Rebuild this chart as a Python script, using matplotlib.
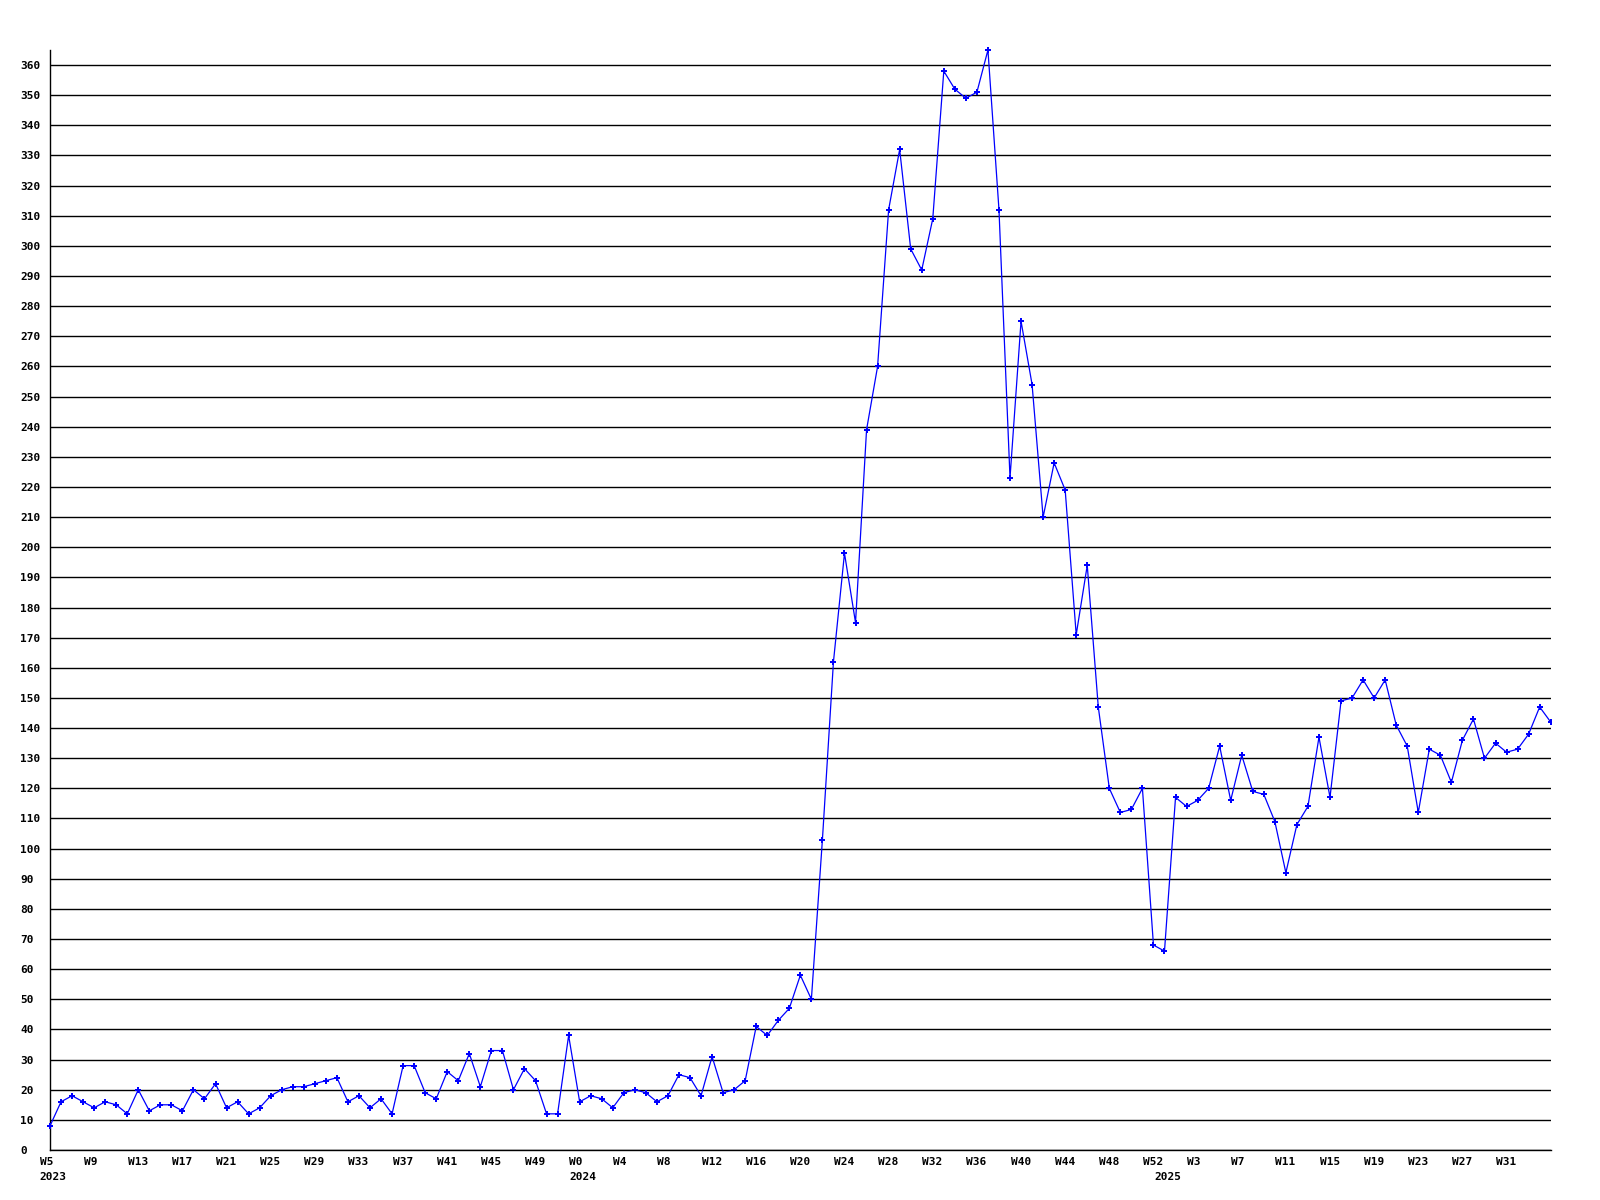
import matplotlib
matplotlib.use("Agg")
import matplotlib.pyplot as plt
import matplotlib.transforms as mtransforms

# weekly counts, 2023 W5 .. 2025 W35
values = [
    8, 16, 18, 16, 14, 16, 15, 12, 20, 13, 15, 15, 13, 20, 17, 22, 14, 16, 12, 14,
    18, 20, 21, 21, 22, 23, 24, 16, 18, 14, 17, 12, 28, 28, 19, 17, 26, 23, 32, 21,
    33, 33, 20, 27, 23, 12, 12, 38,
    16, 18, 17, 14, 19, 20, 19, 16, 18, 25, 24, 18, 31, 19, 20, 23, 41, 38, 43, 47,
    58, 50, 103, 162, 198, 175,
    239, 260, 312, 332, 299, 292, 309, 358, 352, 349, 351, 365, 312, 223, 275, 254,
    210, 228, 219, 171, 194, 147, 120, 112, 113, 120,
    68, 66, 117, 114, 116, 120, 134, 116, 131, 119, 118, 109, 92, 108, 114, 137, 117, 149, 150,
    156, 150, 156, 141, 134, 112, 133, 131, 122, 136, 143, 130, 135, 132, 133, 138, 147, 142,
]

week_labels = [
    "W5", "W9", "W13", "W17", "W21", "W25", "W29", "W33", "W37", "W41", "W45", "W49",
    "W0", "W4", "W8", "W12", "W16", "W20", "W24", "W28", "W32", "W36", "W40", "W44", "W48", "W52",
    "W3", "W7", "W11", "W15", "W19", "W23", "W27", "W31",
]
week_ticks = list(range(0, 4 * len(week_labels), 4))

year_labels = ["2023", "2024", "2025"]
year_pos = [0, 48, 101]

font = {"family": "DejaVu Sans Mono", "weight": "bold", "size": 8}

fig = plt.figure(figsize=(16, 12), dpi=100)
ax = fig.add_axes([50 / 1600, 50 / 1200, 1500.7 / 1600, 1100 / 1200])

x = list(range(len(values)))
line, = ax.plot(x, values, color="#0000ff", lw=0.9, marker="P", ms=4, mew=0, zorder=3)
# clip only at the right edge, markers may stick out at top/left
clip = mtransforms.TransformedBbox(mtransforms.Bbox([[-0.01, -0.05], [1.0, 1.05]]), ax.transAxes)
line.set_clip_box(clip)

ax.set_xlim(0, len(values) - 1)
ax.set_ylim(0, 365)
ax.set_yticks(range(0, 361, 10))
ax.yaxis.grid(True, color="black", lw=1.0)
ax.set_axisbelow(True)

for s in ["top", "right"]:
    ax.spines[s].set_visible(False)
ax.spines["left"].set_color("black")
ax.spines["bottom"].set_color("black")
ax.spines["left"].set_linewidth(1.0)
ax.spines["bottom"].set_linewidth(1.0)

ax.tick_params(axis="y", length=0, pad=21.6)
for lab in ax.get_yticklabels():
    lab.set_horizontalalignment("left")
    lab.set_fontproperties(matplotlib.font_manager.FontProperties(**font))

shift = mtransforms.ScaledTranslation(-10.5 / 100, 0, fig.dpi_scale_trans)
ax.set_xticks(week_ticks)
ax.set_xticklabels(week_labels)
ax.tick_params(axis="x", length=0, pad=5)
for lab in ax.get_xticklabels():
    lab.set_horizontalalignment("left")
    lab.set_fontproperties(matplotlib.font_manager.FontProperties(**font))
    lab.set_transform(lab.get_transform() + shift)

year_shift = mtransforms.ScaledTranslation(-10.5 / 100, -22 / 100, fig.dpi_scale_trans)
for pos, yr in zip(year_pos, year_labels):
    ax.text(pos, 0, yr, transform=ax.get_xaxis_transform() + year_shift,
            ha="left", va="top", **font)

fig.savefig("out.png", dpi=100)
